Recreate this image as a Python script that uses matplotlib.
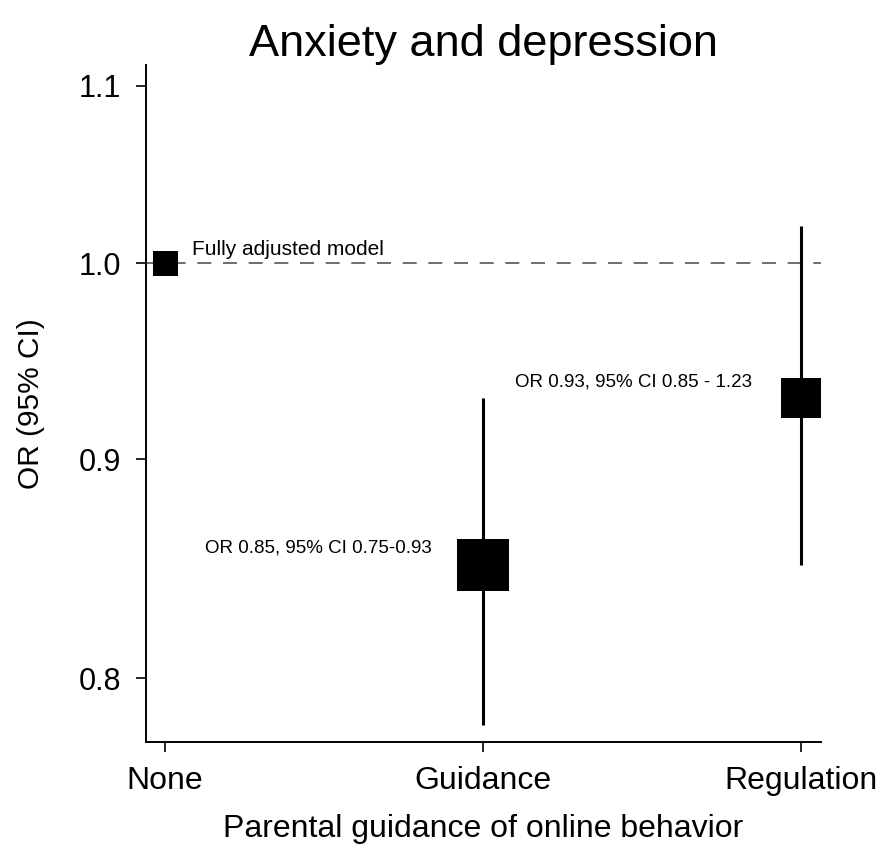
import numpy as np
import matplotlib
matplotlib.use("Agg")
import matplotlib.pyplot as plt
from matplotlib.ticker import FixedLocator, FixedFormatter, NullLocator

plt.rcParams['font.family'] = ['Liberation Sans', 'DejaVu Sans']

# Odds ratios by level of parental guidance (fully adjusted model)
categories = ["None", "Guidance", "Regulation"]
odds_ratio = [1.00, 0.85, 0.93]
ci_lower = [np.nan, 0.78, 0.85]
ci_upper = [np.nan, 0.93, 1.02]
ytick_values = [0.8, 0.9, 1.0, 1.1]
ytick_labels = ["0.8", "0.9", "1.0", "1.1"]
annotations = ["Fully adjusted model",
               "OR 0.85, 95% CI 0.75-0.93",
               "OR 0.93, 95% CI 0.85 - 1.23"]

# square side (points), proportional to the analytic weight
marker_side = [18, 37, 29]

fig = plt.figure(figsize=(8.79, 8.47), dpi=100)
ax = fig.add_axes([0.1661, 0.1240, 0.768, 0.7993])
ax.set_yscale('log')

x = np.arange(len(categories))

# reference line at OR = 1
ax.axhline(1.0, color='#555555', lw=1.2, dashes=(8.4, 7.0), zorder=1)

# confidence intervals
for xi, lo, hi in zip(x, ci_lower, ci_upper):
    if np.isfinite(lo):
        ax.plot([xi, xi], [lo, hi], color='black', lw=2.2, solid_capstyle='butt', zorder=2)

# point estimates
for xi, v, s in zip(x, odds_ratio, marker_side):
    ax.plot(xi, v, marker='s', markersize=s, color='black', markeredgewidth=0, zorder=3)

ax.text(0.085, 1.0043, annotations[0], fontsize=15, ha='left', va='baseline')
ax.text(0.84, 0.856, annotations[1], fontsize=13.5, ha='right', va='baseline')
ax.text(1.10, 0.9356, annotations[2], fontsize=13.5, ha='left', va='baseline')

ax.set_xlim(-0.06, 2.063)
ax.set_ylim(0.773, 1.1125)

ax.set_xticks(x)
ax.set_xticklabels(categories, fontsize=23)
ax.yaxis.set_major_locator(FixedLocator(ytick_values))
ax.yaxis.set_major_formatter(FixedFormatter(ytick_labels))
ax.yaxis.set_minor_locator(NullLocator())
ax.tick_params(axis='y', labelsize=22, length=7, width=1.2, pad=11)
ax.tick_params(axis='x', length=7, width=1.2, pad=10)

for side in ['top', 'right']:
    ax.spines[side].set_visible(False)
for side in ['left', 'bottom']:
    ax.spines[side].set_linewidth(1.4)

ax.set_xlabel("Parental guidance of online behavior", fontsize=23, labelpad=13)
ax.set_ylabel("OR (95% CI)", fontsize=21.5, labelpad=24)
ax.set_title("Anxiety and depression", fontsize=32.5, pad=5)

fig.savefig("out.png", dpi=100)
